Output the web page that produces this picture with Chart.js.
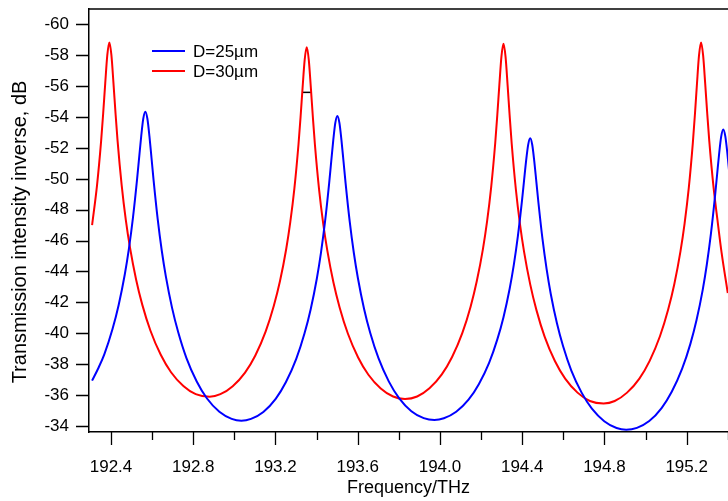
<!DOCTYPE html>
<html>
<head>
<meta charset="utf-8">
<script src="https://cdn.jsdelivr.net/npm/chart.js@4.4.0/dist/chart.umd.min.js"></script>
<style>
  html, body { margin: 0; padding: 0; background: #fff; }
  canvas { display: block; }
</style>
</head>
<body>
<canvas id="chart" width="728" height="501"></canvas>
<script>
// series names
const seriesLabels = ['D=25µm', 'D=30µm'];

// D=25µm (blue) - frequency in THz, value in dB
const blueFreq = [
  192.308, 192.337, 192.367, 192.407, 192.437, 192.467, 192.487, 192.507, 192.527, 192.537, 192.547, 192.557, 192.567,
  192.577, 192.587, 192.597, 192.607, 192.627, 192.647, 192.667, 192.697, 192.727, 192.767, 192.817, 192.867, 192.927, 192.987, 193.034,
  193.081, 193.141, 193.201, 193.251, 193.301, 193.341, 193.371, 193.401, 193.421, 193.441, 193.461, 193.471, 193.481, 193.491, 193.501,
  193.511, 193.521, 193.531, 193.541, 193.561, 193.581, 193.601, 193.631, 193.661, 193.701, 193.751, 193.801, 193.861, 193.921, 193.973,
  194.019, 194.079, 194.139, 194.189, 194.239, 194.279, 194.309, 194.339, 194.359, 194.379, 194.399, 194.409, 194.419, 194.429, 194.439,
  194.449, 194.459, 194.469, 194.479, 194.499, 194.519, 194.539, 194.569, 194.599, 194.639, 194.689, 194.739, 194.799, 194.859, 194.906,
  194.958, 195.018, 195.078, 195.128, 195.178, 195.218, 195.248, 195.278, 195.298, 195.318, 195.338, 195.348, 195.358, 195.368, 195.378,
  195.388, 195.398, 195.408
];
const blueDb = [
  -36.93, -37.7, -38.61, -40.25, -41.81, -43.8, -45.46, -47.5, -49.99, -51.39, -52.77, -53.9, -54.35,
  -53.89, -52.75, -51.35, -49.93, -47.4, -45.34, -43.66, -41.64, -40.06, -38.39, -36.87, -35.77, -34.91, -34.45, -34.33,
  -34.45, -34.9, -35.75, -36.84, -38.34, -39.98, -41.54, -43.53, -45.19, -47.22, -49.71, -51.11, -52.49, -53.62, -54.07,
  -53.62, -52.49, -51.12, -49.72, -47.24, -45.21, -43.56, -41.57, -40.01, -38.38, -36.88, -35.8, -34.95, -34.5, -34.38,
  -34.49, -34.91, -35.69, -36.7, -38.08, -39.6, -41.04, -42.88, -44.41, -46.29, -48.59, -49.88, -51.16, -52.2, -52.62,
  -52.19, -51.11, -49.79, -48.45, -46.07, -44.13, -42.54, -40.64, -39.15, -37.58, -36.15, -35.11, -34.3, -33.86, -33.75,
  -33.87, -34.31, -35.15, -36.22, -37.7, -39.31, -40.85, -42.81, -44.45, -46.45, -48.9, -50.28, -51.64, -52.75, -53.2,
  -52.75, -51.64, -50.28
];

// D=30µm (red)
const redFreq = [
  192.308, 192.332, 192.352, 192.362, 192.372, 192.382, 192.392,
  192.402, 192.412, 192.422, 192.432, 192.452, 192.472, 192.492, 192.522, 192.552, 192.592, 192.642, 192.692, 192.752, 192.812, 192.88,
  192.932, 192.992, 193.052, 193.102, 193.152, 193.192, 193.222, 193.252, 193.272, 193.292, 193.312, 193.322, 193.332, 193.342, 193.352,
  193.362, 193.372, 193.382, 193.392, 193.412, 193.432, 193.452, 193.482, 193.512, 193.552, 193.602, 193.652, 193.712, 193.772, 193.83,
  193.889, 193.949, 194.009, 194.059, 194.109, 194.149, 194.179, 194.209, 194.229, 194.249, 194.269, 194.279, 194.289, 194.299, 194.309,
  194.319, 194.329, 194.339, 194.349, 194.369, 194.389, 194.409, 194.439, 194.469, 194.509, 194.559, 194.609, 194.669, 194.729, 194.796,
  194.85, 194.91, 194.97, 195.02, 195.07, 195.11, 195.14, 195.17, 195.19, 195.21, 195.23, 195.24, 195.25, 195.26, 195.27,
  195.28, 195.29, 195.30, 195.31, 195.33, 195.35, 195.37, 195.40
];
const redDb = [
  -47.0, -49.58, -52.46, -54.25, -56.2, -58.01, -58.83,
  -58.01, -56.2, -54.25, -52.46, -49.58, -47.34, -45.57, -43.48, -41.85, -40.16, -38.6, -37.47, -36.58, -36.05, -35.89,
  -36.05, -36.57, -37.45, -38.56, -40.1, -41.78, -43.38, -45.44, -47.19, -49.38, -52.24, -54.0, -55.93, -57.71, -58.53,
  -57.71, -55.91, -53.97, -52.19, -49.32, -47.11, -45.36, -43.28, -41.67, -39.98, -38.43, -37.31, -36.42, -35.9, -35.74,
  -35.9, -36.43, -37.33, -38.46, -40.02, -41.72, -43.36, -45.45, -47.22, -49.45, -52.35, -54.15, -56.1, -57.92, -58.75,
  -57.91, -56.07, -54.09, -52.27, -49.34, -47.08, -45.28, -43.16, -41.51, -39.78, -38.2, -37.06, -36.15, -35.61, -35.45,
  -35.61, -36.15, -37.06, -38.21, -39.8, -41.53, -43.19, -45.32, -47.12, -49.38, -52.33, -54.15, -56.14, -57.99, -58.83,
  -57.99, -56.18, -54.23, -52.44, -49.54, -47.31, -45.2, -42.6
];

// little black dash sitting on the second red peak
const markFreq = [193.33, 193.375];
const markDb = [-55.6, -55.6];

// axis ticks
const xMajor = [192.4, 192.8, 193.2, 193.6, 194.0, 194.4, 194.8, 195.2];
const xMinor = [192.6, 193.0, 193.4, 193.8, 194.2, 194.6, 195.0, 195.4];
const yTicks = [-60, -58, -56, -54, -52, -50, -48, -46, -44, -42, -40, -38, -36, -34];

const FONT = '"Liberation Sans", Arial, sans-serif';

function toPoints(xs, ys) {
  return xs.map((x, i) => ({ x: x, y: ys[i] }));
}

// frame top line, tick marks, legend and the y title
const decorations = {
  id: 'decorations',
  afterDraw(chart) {
    const { ctx, chartArea: a, scales: { x, y } } = chart;
    ctx.save();
    ctx.strokeStyle = '#000';
    ctx.lineWidth = 1.5;

    ctx.beginPath();
    ctx.moveTo(a.left, a.top);
    ctx.lineTo(a.right, a.top);
    ctx.stroke();

    ctx.lineWidth = 1.3;
    ctx.beginPath();
    xMajor.forEach(v => {
      const px = Math.round(x.getPixelForValue(v)) + 0.5;
      ctx.moveTo(px, a.bottom);
      ctx.lineTo(px, a.bottom + 13);
    });
    xMinor.forEach(v => {
      const px = Math.round(x.getPixelForValue(v)) + 0.5;
      ctx.moveTo(px, a.bottom);
      ctx.lineTo(px, a.bottom + 8);
    });
    yTicks.forEach(v => {
      const py = Math.round(y.getPixelForValue(v)) + 0.5;
      ctx.moveTo(a.left - 13, py);
      ctx.lineTo(a.left, py);
    });
    ctx.stroke();

    // legend
    ctx.font = '17px ' + FONT;
    ctx.textAlign = 'left';
    ctx.textBaseline = 'middle';
    ctx.fillStyle = '#000';
    chart.data.datasets.slice(0, 2).forEach((ds, i) => {
      const ly = a.top + 42 + i * 20;
      ctx.strokeStyle = ds.borderColor;
      ctx.lineWidth = 2;
      ctx.beginPath();
      ctx.moveTo(a.left + 63, ly);
      ctx.lineTo(a.left + 96, ly);
      ctx.stroke();
      ctx.fillText(ds.label, a.left + 104, ly + 1);
    });

    // y axis title
    ctx.translate(20, 232);
    ctx.rotate(-Math.PI / 2);
    ctx.font = '20px ' + FONT;
    ctx.textAlign = 'center';
    ctx.textBaseline = 'middle';
    ctx.fillText('Transmission intensity inverse, dB', 0, 0);
    ctx.restore();
  }
};

const lineStyle = {
  borderWidth: 2,
  pointRadius: 0,
  fill: false,
  cubicInterpolationMode: 'monotone'
};

new Chart(document.getElementById('chart').getContext('2d'), {
  type: 'line',
  data: {
    datasets: [
      Object.assign({ label: seriesLabels[0], data: toPoints(blueFreq, blueDb), borderColor: '#0000ff' }, lineStyle),
      Object.assign({ label: seriesLabels[1], data: toPoints(redFreq, redDb), borderColor: '#ff0000' }, lineStyle),
      { label: 'mark', data: toPoints(markFreq, markDb), borderColor: '#000', borderWidth: 1.5, pointRadius: 0 }
    ]
  },
  options: {
    responsive: false,
    animation: false,
    devicePixelRatio: 1,
    layout: { padding: { top: 9, left: 0, right: 0, bottom: 0 } },
    plugins: { legend: { display: false }, tooltip: { enabled: false } },
    scales: {
      x: {
        type: 'linear',
        min: 192.293,
        max: 195.401,
        afterBuildTicks: s => { s.ticks = xMajor.map(v => ({ value: v })); },
        afterFit: s => { s.height = 69; s.paddingLeft = 0; s.paddingRight = 0; },
        grid: { display: false, drawTicks: false },
        border: { display: true, color: '#000', width: 1.5 },
        ticks: {
          padding: 25,
          color: '#000',
          maxRotation: 0,
          autoSkip: false,
          font: { size: 17, family: FONT },
          callback: v => v.toFixed(1)
        },
        title: {
          display: true,
          text: 'Frequency/THz',
          color: '#000',
          font: { size: 18, family: FONT },
          padding: { top: 0, bottom: 2 }
        }
      },
      y: {
        type: 'linear',
        reverse: true,
        min: -61.0,
        max: -33.6,
        afterBuildTicks: s => { s.ticks = yTicks.map(v => ({ value: v })); },
        afterFit: s => { s.width = 89; s.paddingTop = 0; s.paddingBottom = 0; },
        grid: { display: false, drawTicks: false },
        border: { display: true, color: '#000', width: 1.5 },
        ticks: {
          padding: 20,
          color: '#000',
          autoSkip: false,
          font: { size: 17, family: FONT },
          callback: v => String(v)
        }
      }
    }
  },
  plugins: [decorations]
});
</script>
</body>
</html>
